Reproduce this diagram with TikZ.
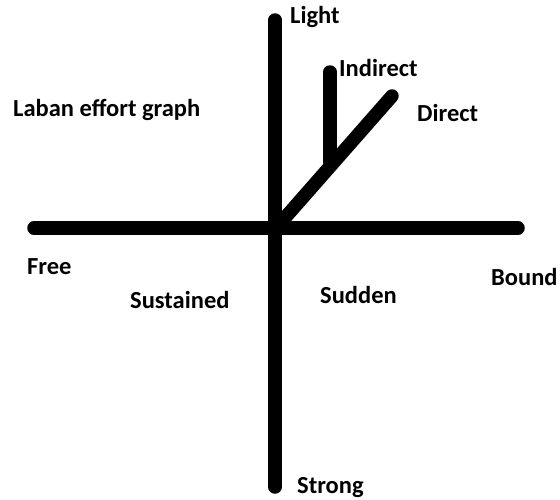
\documentclass[tikz,border=0pt]{standalone}
\usepackage{fontspec}
\setmainfont{Carlito}
\usepackage{tikz}
\usetikzlibrary{positioning}
\tikzset{
  eixo/.style={line width=13.5pt, line cap=round, black},
  rotulo/.style={anchor=west, inner sep=0pt, font=\fontsize{24.5}{28}\selectfont\bfseries},
}

\begin{document}
\begin{tikzpicture}[x=1pt, y=-1pt]
  \useasboundingbox (0,0) rectangle (560,499);
  % eixos
  \coordinate (topo) at (275,20);
  \coordinate (base) at (275,487);
  \coordinate (esq) at (34,228);
  \coordinate (dir) at (518,228);
  \coordinate (centro) at (276,228);
  \coordinate (diag) at (392,96);
  \coordinate (ind) at (330,72);
  \coordinate (indb) at (330,162);
  \draw[eixo] (topo) -- (base);
  \draw[eixo] (esq) -- (dir);
  \draw[eixo] (centro) -- (diag);
  \draw[eixo] (ind) -- (indb);

  % rotulos
  \node[rotulo] (light) at (290,17) {Light};
  \node[rotulo] (indirect) at (339,68) {Indirect};
  \node[rotulo] (direct) at (417,113) {Direct};
  \node[rotulo] (titulo) at (13,110) {Laban effort graph};
  \node[rotulo] (free) at (27,267) {Free};
  \node[rotulo] (sustained) at (130,300) {Sustained};
  \node[rotulo] (sudden) at (320,295) {Sudden};
  \node[rotulo] (bound) at (491,277) {Bound};
  \node[rotulo] (strong) at (297,488) {Strong};
\end{tikzpicture}
\end{document}
